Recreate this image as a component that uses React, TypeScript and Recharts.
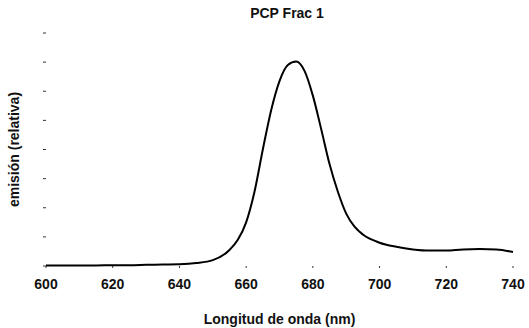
import React from 'react';
import { LineChart, Line, XAxis, YAxis, Label } from 'recharts';

// wavelength (nm) and relative emission
const wavelengths = [
  600, 605, 610, 615, 620, 625, 630, 635, 640, 645, 650, 655, 657.5, 660, 662.5,
  665, 667.5, 670, 672.5, 675, 677.5, 680, 682.5, 685, 687.5, 690, 692.5, 695,
  700, 705, 710, 715, 720, 725, 730, 735, 740,
];
const emission = [
  0.02, 0.02, 0.02, 0.02, 0.03, 0.03, 0.04, 0.05, 0.06, 0.1, 0.2, 0.55, 0.9, 1.5, 2.55,
  4.0, 5.35, 6.35, 6.9, 7.02, 6.7, 5.85, 4.7, 3.5, 2.55, 1.8, 1.35, 1.08,
  0.8, 0.66, 0.57, 0.53, 0.53, 0.57, 0.58, 0.57, 0.48,
];
const xTicks = [600, 620, 640, 660, 680, 700, 720, 740];
const yTicks = [0, 1, 2, 3, 4, 5, 6, 7, 8];

const data = wavelengths.map((w, i) => ({ nm: w, value: emission[i] }));

const font = '"Liberation Sans", Arial, sans-serif';

const App: React.FC = () => {
  return (
    <div style={{ position: 'absolute', left: 0, top: 0, width: 529, height: 328, background: '#fff', fontFamily: font }}>
      <div
        style={{
          position: 'absolute',
          top: 5,
          left: 0,
          width: 574,
          textAlign: 'center',
          fontSize: 14,
          fontWeight: 'bold',
          color: '#111',
        }}
      >
        PCP Frac 1
      </div>
      <LineChart
        width={529}
        height={328}
        data={data}
        margin={{ top: 33, right: 16, left: 36, bottom: 0 }}
      >
        <XAxis
          dataKey="nm"
          type="number"
          domain={[600, 740]}
          ticks={xTicks}
          axisLine={false}
          tickLine={{ stroke: '#333' }}
          tickSize={2}
          tickMargin={11}
          height={62}
          tick={{ fontSize: 14, fontWeight: 'bold', fill: '#111', fontFamily: font }}
        >
          <Label
            value="Longitud de onda (nm)"
            position="insideBottom"
            offset={4}
            style={{ fontSize: 14, fontWeight: 'bold', fill: '#111', fontFamily: font }}
          />
        </XAxis>
        <YAxis
          type="number"
          domain={[0, 8]}
          ticks={yTicks}
          axisLine={false}
          tickLine={{ stroke: '#333' }}
          tickSize={3}
          tickFormatter={() => ''}
          width={10}
        >
          <Label
            value="emisión (relativa)"
            angle={-90}
            position="insideLeft"
            offset={-22}
            style={{ fontSize: 14, fontWeight: 'bold', fill: '#111', fontFamily: font, textAnchor: 'middle' }}
          />
        </YAxis>
        <Line
          type="monotone"
          dataKey="value"
          stroke="#000"
          strokeWidth={2}
          dot={false}
          isAnimationActive={false}
        />
      </LineChart>
    </div>
  );
};

export default App;
